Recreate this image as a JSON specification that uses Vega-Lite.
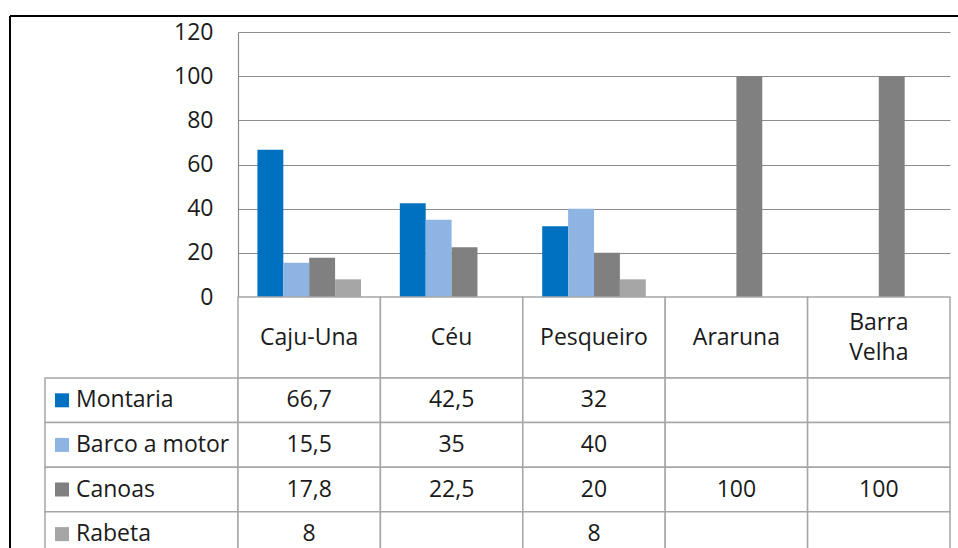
{
  "$schema": "https://vega.github.io/schema/vega-lite/v6.json",
  "padding": {"left": 9, "top": 15, "right": 0, "bottom": 0},
  "autosize": {"type": "pad"},
  "background": "white",
  "config": {
    "view": {"stroke": null},
    "font": "Open Sans",
    "concat": {"spacing": 0},
    "locale": {"number": {"decimal": ",", "thousands": ".", "grouping": [3], "currency": ["R$ ", ""]}}
  },
  "datasets": {
    "dados": [
      {"local": "Caju-Una", "tipo": "Montaria", "valor": 66.7},
      {"local": "Caju-Una", "tipo": "Barco a motor", "valor": 15.5},
      {"local": "Caju-Una", "tipo": "Canoas", "valor": 17.8},
      {"local": "Caju-Una", "tipo": "Rabeta", "valor": 8},
      {"local": "Céu", "tipo": "Montaria", "valor": 42.5},
      {"local": "Céu", "tipo": "Barco a motor", "valor": 35},
      {"local": "Céu", "tipo": "Canoas", "valor": 22.5},
      {"local": "Céu", "tipo": "Rabeta", "valor": null},
      {"local": "Pesqueiro", "tipo": "Montaria", "valor": 32},
      {"local": "Pesqueiro", "tipo": "Barco a motor", "valor": 40},
      {"local": "Pesqueiro", "tipo": "Canoas", "valor": 20},
      {"local": "Pesqueiro", "tipo": "Rabeta", "valor": 8},
      {"local": "Araruna", "tipo": "Montaria", "valor": null},
      {"local": "Araruna", "tipo": "Barco a motor", "valor": null},
      {"local": "Araruna", "tipo": "Canoas", "valor": 100},
      {"local": "Araruna", "tipo": "Rabeta", "valor": null},
      {"local": "Barra Velha", "tipo": "Montaria", "valor": null},
      {"local": "Barra Velha", "tipo": "Barco a motor", "valor": null},
      {"local": "Barra Velha", "tipo": "Canoas", "valor": 100},
      {"local": "Barra Velha", "tipo": "Rabeta", "valor": null}
    ]
  },
  "spacing": 0,
  "bounds": "flush",
  "columns": 3,
  "concat": [
    {
      "width": 35, "height": 16,
      "data": {"values": [{}]},
      "layer": [
        {"mark": {"type": "rule", "color": "black", "strokeWidth": 2},
         "encoding": {"y": {"datum": 1, "type": "quantitative", "scale": {"domain": [0, 1]}, "axis": null}}},
        {"mark": {"type": "rule", "color": "black", "strokeWidth": 2},
         "encoding": {"x": {"datum": 0, "type": "quantitative", "scale": {"domain": [0, 1]}, "axis": null}}}
      ]
    },
    {
      "width": 193, "height": 16,
      "data": {"values": [{}]},
      "mark": {"type": "rule", "color": "black", "strokeWidth": 2},
      "encoding": {"y": {"datum": 1, "type": "quantitative", "scale": {"domain": [0, 1]}, "axis": null}}
    },
    {
      "width": 720, "height": 16,
      "data": {"values": [{}]},
      "mark": {"type": "rule", "color": "black", "strokeWidth": 2},
      "encoding": {"y": {"datum": 1, "type": "quantitative", "scale": {"domain": [0, 1]}, "axis": null}}
    },
    {
      "width": 35, "height": 265,
      "data": {"values": [{}]},
      "mark": {"type": "rule", "color": "black", "strokeWidth": 2},
      "encoding": {"x": {"datum": 0, "type": "quantitative", "scale": {"domain": [0, 1]}, "axis": null}}
    },
    {"width": 193, "height": 265, "data": {"values": []}, "mark": "point"},
    {
      "width": 712,
      "height": 265,
      "data": {"name": "dados"},
      "mark": {"type": "bar"},
      "encoding": {
        "x": {"field": "local", "type": "nominal", "sort": ["Caju-Una", "Céu", "Pesqueiro", "Araruna", "Barra Velha"], "scale": {"paddingInner": 0, "paddingOuter": 0}, "axis": null},
        "xOffset": {"field": "tipo", "type": "nominal", "sort": ["Montaria", "Barco a motor", "Canoas", "Rabeta"], "scale": {"paddingInner": 0, "paddingOuter": 0.75}},
        "y": {"field": "valor", "type": "quantitative", "scale": {"domain": [0, 120], "nice": false},
          "axis": {"values": [0, 20, 40, 60, 80, 100, 120], "title": null, "grid": true, "gridColor": "#8c8c8c", "gridWidth": 1.2, "domainColor": "#8c8c8c", "domainWidth": 1.2, "ticks": false, "labelPadding": 25, "labelFontSize": 23, "labelColor": "#1a1a1a", "labelFont": "Open Sans"}},
        "color": {"field": "tipo", "type": "nominal", "scale": {"domain": ["Montaria", "Barco a motor", "Canoas", "Rabeta"], "range": ["#0070C0", "#8DB4E2", "#808080", "#A6A6A6"]}, "legend": null}
      }
    },
    {
      "width": 35, "height": 81,
      "data": {"values": [{}]},
      "mark": {"type": "rule", "color": "black", "strokeWidth": 2},
      "encoding": {"x": {"datum": 0, "type": "quantitative", "scale": {"domain": [0, 1]}, "axis": null}}
    },
    {"width": 193, "height": 81, "data": {"values": []}, "mark": "point"},
    {
      "width": 712,
      "height": 81,
      "data": {"name": "dados"},
      "transform": [{"aggregate": [{"op": "count", "as": "n"}], "groupby": ["local"]}],
      "layer": [
        {"mark": {"type": "rect", "fill": "white", "stroke": "#a6a6a6", "strokeWidth": 1.5},
         "encoding": {"x": {"field": "local", "type": "nominal", "sort": ["Caju-Una", "Céu", "Pesqueiro", "Araruna", "Barra Velha"], "scale": {"paddingInner": 0, "paddingOuter": 0}, "axis": null}}},
        {"transform": [{"filter": "indexof(datum.local, ' ') < 0"}],
         "mark": {"type": "text", "fontSize": 23, "color": "#1a1a1a", "baseline": "middle"},
         "encoding": {"x": {"field": "local", "type": "nominal", "sort": ["Caju-Una", "Céu", "Pesqueiro", "Araruna", "Barra Velha"], "axis": null}, "text": {"field": "local"}}},
        {"transform": [{"filter": "indexof(datum.local, ' ') >= 0"}],
         "mark": {"type": "text", "fontSize": 23, "color": "#1a1a1a", "lineBreak": " ", "lineHeight": 30, "baseline": "middle", "dy": -15},
         "encoding": {"x": {"field": "local", "type": "nominal", "sort": ["Caju-Una", "Céu", "Pesqueiro", "Araruna", "Barra Velha"], "axis": null}, "text": {"field": "local"}}}
      ]
    },
    {
      "width": 35, "height": 178.4,
      "data": {"values": [{}]},
      "mark": {"type": "rule", "color": "black", "strokeWidth": 2},
      "encoding": {"x": {"datum": 0, "type": "quantitative", "scale": {"domain": [0, 1]}, "axis": null}}
    },
    {
      "width": 193,
      "height": 178.4,
      "data": {"name": "dados"},
      "transform": [{"aggregate": [{"op": "count", "as": "n"}], "groupby": ["tipo"]}],
      "layer": [
        {"mark": {"type": "rect", "fill": "white", "stroke": "#a6a6a6", "strokeWidth": 1.5},
         "encoding": {"y": {"field": "tipo", "type": "nominal", "sort": ["Montaria", "Barco a motor", "Canoas", "Rabeta"], "scale": {"paddingInner": 0, "paddingOuter": 0}, "axis": null}}},
        {"mark": {"type": "point", "shape": "square", "filled": true, "size": 196, "opacity": 1, "x": 17},
         "encoding": {"y": {"field": "tipo", "type": "nominal", "sort": ["Montaria", "Barco a motor", "Canoas", "Rabeta"], "axis": null},
           "color": {"field": "tipo", "type": "nominal", "scale": {"domain": ["Montaria", "Barco a motor", "Canoas", "Rabeta"], "range": ["#0070C0", "#8DB4E2", "#808080", "#A6A6A6"]}, "legend": null}}},
        {"mark": {"type": "text", "align": "left", "baseline": "middle", "fontSize": 23, "color": "#1a1a1a", "x": 31},
         "encoding": {"y": {"field": "tipo", "type": "nominal", "sort": ["Montaria", "Barco a motor", "Canoas", "Rabeta"], "axis": null}, "text": {"field": "tipo"}}}
      ]
    },
    {
      "width": 712,
      "height": 178.4,
      "data": {"name": "dados"},
      "layer": [
        {"mark": {"type": "rect", "fill": "white", "stroke": "#a6a6a6", "strokeWidth": 1.5},
         "encoding": {
           "x": {"field": "local", "type": "nominal", "sort": ["Caju-Una", "Céu", "Pesqueiro", "Araruna", "Barra Velha"], "scale": {"paddingInner": 0, "paddingOuter": 0}, "axis": null},
           "y": {"field": "tipo", "type": "nominal", "sort": ["Montaria", "Barco a motor", "Canoas", "Rabeta"], "scale": {"paddingInner": 0, "paddingOuter": 0}, "axis": null}}},
        {"transform": [{"filter": "isValid(datum.valor)"}],
         "mark": {"type": "text", "fontSize": 23, "color": "#1a1a1a", "baseline": "middle"},
         "encoding": {
           "x": {"field": "local", "type": "nominal", "sort": ["Caju-Una", "Céu", "Pesqueiro", "Araruna", "Barra Velha"], "axis": null},
           "y": {"field": "tipo", "type": "nominal", "sort": ["Montaria", "Barco a motor", "Canoas", "Rabeta"], "axis": null},
           "text": {"field": "valor", "type": "quantitative", "format": "~g"}}}
      ]
    }
  ]
}
